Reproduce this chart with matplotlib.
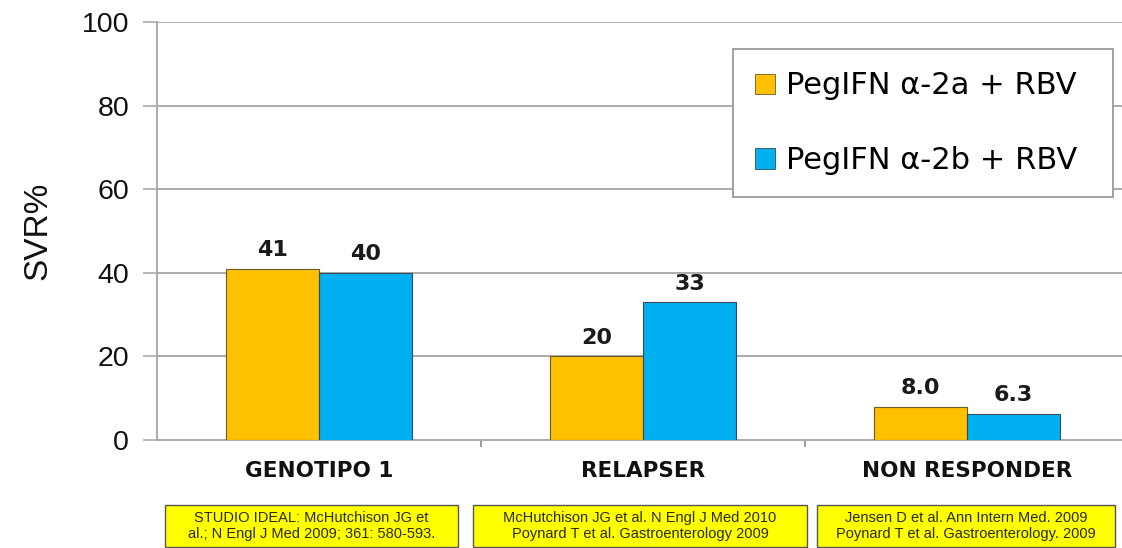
import matplotlib
matplotlib.use("Agg")
import matplotlib.pyplot as plt
import numpy as np
from matplotlib.patches import Patch, Rectangle

categories = ["GENOTIPO 1", "RELAPSER", "NON RESPONDER"]
series_names = ["PegIFN \u03b1-2a + RBV", "PegIFN \u03b1-2b + RBV"]
peg_2a = [41, 20, 8.0]
peg_2b = [40, 33, 6.3]
value_labels_2a = ["41", "20", "8.0"]
value_labels_2b = ["40", "33", "6.3"]
references = [
    "STUDIO IDEAL: McHutchison JG et\nal.; N Engl J Med 2009; 361: 580-593.",
    "McHutchison JG et al. N Engl J Med 2010\nPoynard T et al. Gastroenterology 2009",
    "Jensen D et al. Ann Intern Med. 2009\nPoynard T et al. Gastroenterology. 2009",
]
y_ticks = [0, 20, 40, 60, 80, 100]

ORANGE = "#FFC000"
BLUE = "#00B0F0"
GRID = "#ababab"

W, H = 1122, 548
fig = plt.figure(figsize=(W / 100, H / 100), dpi=100)
fig.patch.set_facecolor("white")

# axes: left spine at x=157, category width 324 px, y 0..100 -> 440..22 px
ax = fig.add_axes([157 / W, (H - 440) / H, 972 / W, 418 / H])
ax.set_xlim(-0.5, 2.5)
ax.set_ylim(0, 100)

x = np.arange(len(categories))
bw = 0.287
b1 = ax.bar(x - bw / 2, peg_2a, bw, color=ORANGE, edgecolor="#6b5a2a", linewidth=0.8, zorder=3)
b2 = ax.bar(x + bw / 2, peg_2b, bw, color=BLUE, edgecolor="#3a4a55", linewidth=0.8, zorder=3)

for bars, labels in ((b1, value_labels_2a), (b2, value_labels_2b)):
    for rect, lab in zip(bars, labels):
        ax.annotate(lab, (rect.get_x() + rect.get_width() / 2, rect.get_height()),
                    xytext=(0, 6), textcoords="offset points", ha="center", va="bottom",
                    fontsize=16, fontweight="bold", family="DejaVu Sans", color="#1a1a1a")

ax.set_yticks(y_ticks)
ax.set_yticklabels([str(v) for v in y_ticks], fontsize=20.5, family="Liberation Sans", color="#111111")
ax.yaxis.grid(True, color=GRID, linewidth=1.4, zorder=0)
ax.tick_params(axis="y", length=10, width=1.2, color=GRID, pad=10)

# category boundary ticks on x axis
ax.set_xticks([0.5, 1.5])
ax.set_xticklabels(["", ""])
ax.tick_params(axis="x", length=5, width=1.2, color="#888888")
for xi, cat in zip(x, categories):
    ax.text(xi, -7.5, cat, ha="center", va="center", fontsize=15.5, fontweight="bold",
            family="DejaVu Sans", color="#111111")

for side in ("top", "right"):
    ax.spines[side].set_visible(False)
ax.spines["left"].set_color(GRID)
ax.spines["left"].set_linewidth(1.4)
ax.spines["bottom"].set_color(GRID)
ax.spines["bottom"].set_linewidth(1.4)

ax.set_ylabel("SVR%", fontsize=24, family="Liberation Sans", color="#111111", labelpad=20)

handles = [Patch(facecolor=ORANGE, edgecolor="#6b5a2a", linewidth=0.6),
           Patch(facecolor=BLUE, edgecolor="#3a4a55", linewidth=0.6)]
leg = ax.legend(handles, series_names, loc="upper left",
                bbox_to_anchor=(733 / W, (H - 50) / H, 380 / W, 0.001),
                bbox_transform=fig.transFigure, mode="expand", borderaxespad=0,
                prop={"family": "DejaVu Sans", "size": 22}, handlelength=0.65, handleheight=0.65,
                handletextpad=0.35, labelspacing=1.5, borderpad=0.72, fancybox=False,
                framealpha=1, edgecolor="#9a9a9a")
leg.get_frame().set_linewidth(1.3)
leg.set_zorder(5)

# reference boxes
box_x = [(165, 458), (473, 807), (817, 1115)]
for (x0, x1) in box_x:
    fig.patches.append(Rectangle((x0 / W, (H - 547) / H), (x1 - x0) / W, 42 / H,
                                 transform=fig.transFigure, facecolor="#FFFF00",
                                 edgecolor="#555555", linewidth=1.0, zorder=1))
for (x0, x1), ref in zip(box_x, references):
    fig.text((x0 + x1) / 2 / W, (H - 526) / H, ref, ha="center", va="center",
             fontsize=10.5, family="Liberation Sans", color="#2a2a10", linespacing=1.15,
             zorder=4)

fig.savefig("out.png", dpi=100)
